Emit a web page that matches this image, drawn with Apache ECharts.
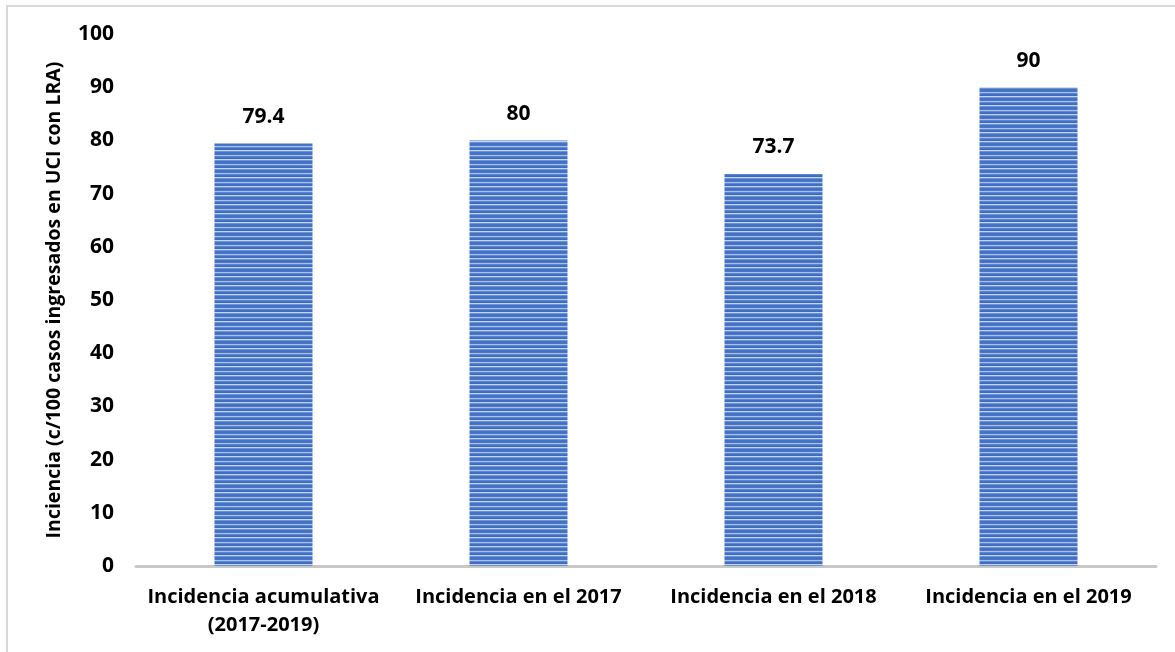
<!DOCTYPE html>
<html>
<head>
<meta charset="utf-8">
<script src="https://cdn.jsdelivr.net/npm/echarts@6/dist/echarts.min.js"></script>
<style>
  html, body { margin: 0; padding: 0; background: #fff; }
  #chart { width: 1175px; height: 652px; }
</style>
</head>
<body>
<div id="chart"></div>
<script>
const categories = ['Incidencia acumulativa\n(2017-2019)', 'Incidencia en el 2017', 'Incidencia en el 2018', 'Incidencia en el 2019'];
const values = [79.4, 80, 73.7, 90];
const yTicks = [0, 10, 20, 30, 40, 50, 60, 70, 80, 90, 100];

// striped fill like the original
function stripes() {
  const c = document.createElement('canvas');
  c.width = 4; c.height = 9;
  const ctx = c.getContext('2d');
  const rows = ['#4170c4', '#4a78c9', '#a9c0ea', '#5d86d0', '#4170c4', '#3d6bc0', '#c3d3f0', '#6a90d5', '#4573c5'];
  rows.forEach((col, i) => { ctx.fillStyle = col; ctx.fillRect(0, i, 4, 1); });
  return c;
}

const chart = echarts.init(document.getElementById('chart'));
const font = '"Open Sans", sans-serif';

chart.setOption({
  animation: false,
  graphic: [{
    type: 'rect',
    shape: { x: 7, y: 6, width: 1200, height: 700 },
    style: { fill: 'none', stroke: '#d9d9d9', lineWidth: 2 }
  }],
  grid: { left: 136, right: 19, top: 34, bottom: 86 },
  xAxis: {
    type: 'category',
    data: categories,
    axisLine: { lineStyle: { color: '#c8c8c8', width: 3 } },
    axisTick: { show: false },
    axisLabel: {
      color: '#000', fontWeight: 'bold', fontSize: 20, fontFamily: font,
      lineHeight: 28, margin: 17, interval: 0
    }
  },
  yAxis: {
    type: 'value',
    min: yTicks[0],
    max: yTicks[yTicks.length - 1],
    interval: 10,
    name: 'Inciencia (c/100 casos ingresados en UCI con LRA)',
    nameLocation: 'middle',
    nameGap: 72,
    nameTextStyle: { color: '#000', fontWeight: 'bold', fontSize: 19.5, fontFamily: font },
    axisLine: { show: false },
    axisTick: { show: false },
    splitLine: { show: false },
    axisLabel: { color: '#000', fontWeight: 'bold', fontSize: 21, fontFamily: font, margin: 22 }
  },
  series: [{
    type: 'bar',
    data: values,
    barWidth: 98,
    itemStyle: { color: { image: stripes(), repeat: 'repeat' } },
    label: {
      show: true, position: 'top', distance: 16,
      color: '#000', fontWeight: 'bold', fontSize: 21, fontFamily: font
    }
  }]
});
</script>
</body>
</html>
